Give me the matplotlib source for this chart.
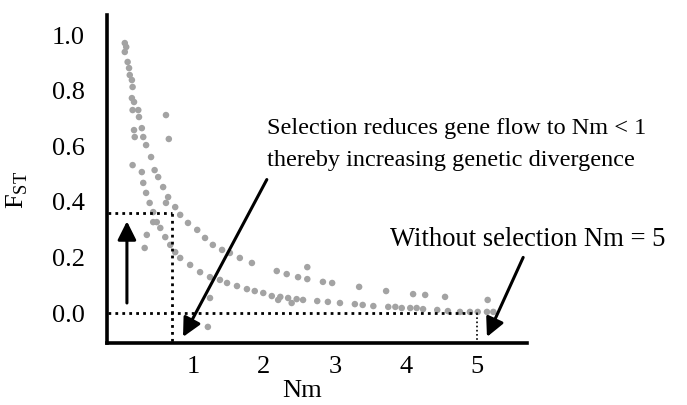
import matplotlib
matplotlib.use("Agg")
import matplotlib.pyplot as plt

# ----------------------------
# Data (Nm vs F_ST)
# ----------------------------
# upper band of simulated loci
upper_nm = [0.04, 0.04, 0.06, 0.08, 0.10, 0.11, 0.14, 0.15, 0.17, 0.23, 0.24, 0.28,
            0.30, 0.34, 0.41, 0.46, 0.51, 0.58, 0.65, 0.75, 0.82, 0.93, 1.06, 1.17,
            1.28, 1.41, 1.52, 1.66, 1.83, 2.18, 2.32, 2.48, 2.83, 2.96, 3.34, 3.72,
            4.10, 4.27, 4.55, 5.15]
upper_fst = [0.971, 0.939, 0.957, 0.903, 0.881, 0.856, 0.838, 0.813, 0.759, 0.730,
             0.705, 0.665, 0.633, 0.604, 0.561, 0.514, 0.489, 0.453, 0.417, 0.381,
             0.353, 0.324, 0.299, 0.270, 0.245, 0.227, 0.216, 0.198, 0.180, 0.151,
             0.140, 0.129, 0.112, 0.108, 0.094, 0.079, 0.068, 0.065, 0.058, 0.047]

# lower band
lower_nm = [0.14, 0.15, 0.17, 0.18, 0.28, 0.30, 0.34, 0.39, 0.44, 0.49, 0.54, 0.61,
            0.68, 0.75, 0.82, 0.96, 1.10, 1.24, 1.38, 1.48, 1.62, 1.76, 1.87, 1.99,
            2.11, 2.23, 2.34, 2.46, 2.55, 2.75, 2.90, 3.07, 3.28, 3.39, 3.54, 3.75,
            3.85, 3.94, 4.06, 4.15, 4.24, 4.44, 4.59, 4.76, 4.90, 5.01, 5.14, 5.23]
lower_fst = [0.773, 0.730, 0.658, 0.633, 0.507, 0.468, 0.432, 0.396, 0.363, 0.327,
             0.306, 0.273, 0.245, 0.219, 0.198, 0.173, 0.147, 0.129, 0.119, 0.108,
             0.097, 0.086, 0.079, 0.072, 0.061, 0.058, 0.054, 0.050, 0.047, 0.043,
             0.040, 0.036, 0.032, 0.029, 0.025, 0.022, 0.022, 0.018, 0.018, 0.018,
             0.014, 0.011, 0.007, 0.004, 0.004, 0.004, 0.004, 0.004]

# scattered outliers
outlier_nm = [0.62, 0.66, 0.15, 0.62, 0.44, 0.35, 0.32, 2.61, 2.61, 1.24, 1.21, 2.39, 2.20]
outlier_fst = [0.712, 0.626, 0.532, 0.396, 0.327, 0.281, 0.234, 0.165, 0.122, 0.054,
               -0.050, 0.036, 0.047]

xticks = [1, 2, 3, 4, 5]
yticks = [0.0, 0.2, 0.4, 0.6, 0.8, 1.0]

nm_sel, fst_sel = 0.70, 0.36      # with selection
nm_neutral, fst_neutral = 5.0, 0.0  # without selection

# ----------------------------
# Style
# ----------------------------
plt.rcParams.update({
    "font.family": "Liberation Serif",
    "mathtext.fontset": "custom",
    "mathtext.rm": "Liberation Serif",
    "font.size": 17.5,
})

DOT = "#a3a3a3"

fig = plt.figure(figsize=(6.87, 4.05), dpi=100)
ax = fig.add_axes([0.1557, 0.153, 0.611, 0.81])

for xs, ys in [(upper_nm, upper_fst), (lower_nm, lower_fst), (outlier_nm, outlier_fst)]:
    ax.scatter(xs, ys, s=22, color=DOT, edgecolors="none", zorder=2)

# reference lines
ax.plot([-0.3, nm_sel], [fst_sel, fst_sel], ls=(0, (1, 1.5)), color="black", lw=2)
ax.plot([nm_sel, nm_sel], [-0.2, fst_sel], ls=(0, (1, 1.5)), color="black", lw=2)
ax.plot([-0.3, nm_neutral], [fst_neutral, fst_neutral], ls=(0, (1, 1.5)), color="black", lw=2)
ax.plot([nm_neutral, nm_neutral], [-0.2, fst_neutral], ls=(0, (1, 1.5)), color="black", lw=1.2)

arrow = dict(arrowstyle="-|>", mutation_scale=28, lw=2.2, color="black",
             shrinkA=0, shrinkB=0)
ax.annotate("", xy=(0.07, 0.33), xytext=(0.07, 0.036), arrowprops=arrow)
ax.annotate("", xy=(0.86, -0.086), xytext=(2.04, 0.48), arrowprops=arrow)
ax.annotate("", xy=(5.14, -0.086), xytext=(5.65, 0.20), arrowprops=arrow)

ax.text(2.04, 0.665, "Selection reduces gene flow to Nm < 1", ha="left", va="center")
ax.text(2.04, 0.55, "thereby increasing genetic divergence", ha="left", va="center")
ax.text(3.77, 0.263, "Without selection Nm = 5", ha="left", va="center", fontsize=19.2)

ax.set_xlim(-0.211, 5.70)
ax.set_ylim(-0.108, 1.072)
ax.set_xticks(xticks)
ax.set_yticks(yticks)
ax.set_yticklabels([f"{v:.1f}" for v in yticks])
ax.tick_params(length=0, labelsize=19)
ax.tick_params(axis="y", pad=16)
ax.tick_params(axis="x", pad=9)

for side in ["top", "right"]:
    ax.spines[side].set_visible(False)
for side in ["left", "bottom"]:
    ax.spines[side].set_linewidth(2.6)

ax.set_xlabel("Nm", fontsize=19)
ax.set_ylabel(r"F$_{\rm ST}$", fontsize=19)
ax.xaxis.set_label_coords(0.464, -0.113)
ax.yaxis.set_label_coords(-0.183, 0.466)

fig.savefig("out.png", dpi=100)
